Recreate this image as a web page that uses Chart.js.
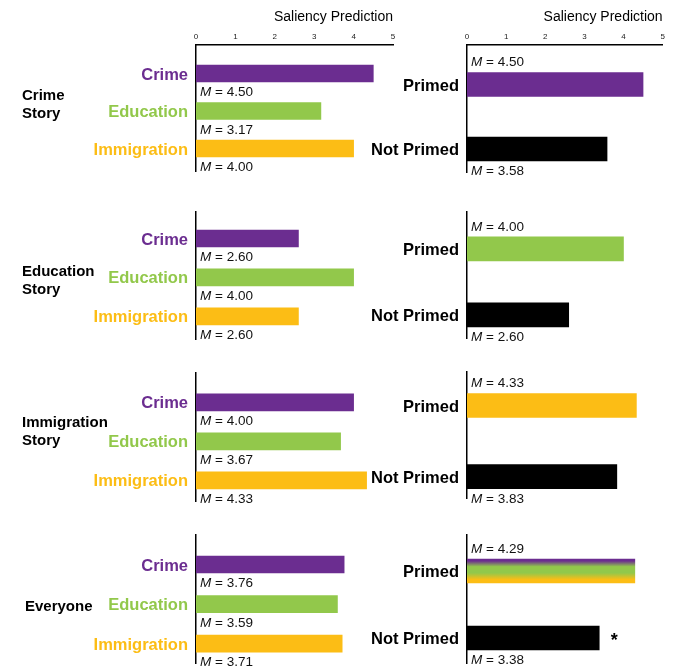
<!DOCTYPE html>
<html><head><meta charset="utf-8">
<script src="https://cdn.jsdelivr.net/npm/chart.js@4"></script>
<style>
html,body{margin:0;padding:0;background:#fff;}
body{width:674px;height:671px;position:relative;overflow:hidden;font-family:'Liberation Sans',Arial,sans-serif;}
canvas{position:absolute;}
.rowtitle{position:absolute;font-weight:bold;font-size:15px;line-height:18px;color:#000;white-space:nowrap;}
</style></head><body>
<script>
// ---- data ----
const topics = ['Crime', 'Education', 'Immigration'];
const primeGroups = ['Primed', 'Not Primed'];
const storyTitles = [['Crime', 'Story'], ['Education', 'Story'], ['Immigration', 'Story'], ['Everyone']];
const crimeStory = [4.50, 3.17, 4.00];
const educationStory = [2.60, 4.00, 2.60];
const immigrationStory = [4.00, 3.67, 4.33];
const everyone = [3.76, 3.59, 3.71];
const crimePrimed = [4.50, 3.58];
const educationPrimed = [4.00, 2.60];
const immigrationPrimed = [4.33, 3.83];
const everyonePrimed = [4.29, 3.38];
const everyoneSig = ['', '*'];
const xTicks = [0, 1, 2, 3, 4, 5];
const axisTitle = 'Saliency Prediction';

// ---- styles / layout ----
const PURPLE = '#6b2d90', GREEN = '#92c84b', GOLD = '#fcbd15', BLACK = '#000000';
const topicColors = [PURPLE, GREEN, GOLD];
const FONT = '"Liberation Sans", Arial, sans-serif';
Chart.defaults.font.family = FONT;

const leftLayout = [
  {T: 45, B: 171, min: -0.76, max: 2.6},
  {T: 212, B: 339, min: -0.68, max: 2.58},
  {T: 373, B: 501, min: -0.756, max: 2.53},
  {T: 535, B: 663, min: -0.747, max: 2.49}
];
const rightLayout = [
  {T: 45, B: 172, min: -0.612, max: 1.357},
  {T: 212, B: 338, min: -0.56, max: 1.35},
  {T: 372, B: 498, min: -0.47, max: 1.30},
  {T: 535, B: 663, min: -0.537, max: 1.373}
];
const titleTops = [{x: 22, y: 86}, {x: 22, y: 262}, {x: 22, y: 413}, {x: 25, y: 597}];

const mLabelPlugin = {
  id: 'mLabels',
  afterDatasetsDraw(chart, args, opts) {
    const ctx = chart.ctx;
    const meta = chart.getDatasetMeta(0);
    const x0 = chart.scales.x.getPixelForValue(0);
    meta.data.forEach((el, i) => {
      const v = chart.data.datasets[0].data[i].x;
      const h = el.height;
      const y = opts.pos[i] === 'above' ? el.y - h / 2 - 10 : el.y + h / 2 + 10.5;
      ctx.save();
      ctx.fillStyle = '#111';
      ctx.textBaseline = 'middle';
      ctx.textAlign = 'left';
      ctx.font = 'italic 13.5px ' + FONT;
      ctx.fillText('M', x0 + 4, y);
      const w = ctx.measureText('M').width;
      ctx.font = '13.5px ' + FONT;
      ctx.fillText(' = ' + v.toFixed(2), x0 + 4 + w, y);
      if (opts.sig && opts.sig[i]) {
        ctx.font = 'bold 18px ' + FONT;
        ctx.textAlign = 'center';
        ctx.fillStyle = '#000';
        ctx.fillText(opts.sig[i], el.x + 15, el.y + 3);
      }
      ctx.restore();
    });
  }
};

function makePanel(p) {
  const cv = document.createElement('canvas');
  const top = p.showTop ? 0 : p.T - 22;
  const bottom = p.B + 18;
  cv.width = p.width; cv.height = bottom - top;
  cv.style.left = p.left + 'px'; cv.style.top = top + 'px';
  cv.style.width = p.width + 'px'; cv.style.height = (bottom - top) + 'px';
  document.body.appendChild(cv);
  const padTop = p.showTop ? 0 : p.T - top;
  const bt = p.barThickness;
  new Chart(cv, {
    type: 'bar',
    data: {
      datasets: [{
        data: p.values.map((v, i) => ({x: v, y: i})),
        barThickness: bt,
        borderWidth: 0,
        backgroundColor: c => {
          if (p.gradient && c.dataIndex === 0) {
            const ch = c.chart;
            if (!ch.chartArea) return GREEN;
            const yc = ch.scales.y.getPixelForValue(0);
            const g = ch.ctx.createLinearGradient(0, yc - bt / 2, 0, yc + bt / 2);
            g.addColorStop(0, PURPLE);
            g.addColorStop(0.08, PURPLE);
            g.addColorStop(0.32, GREEN);
            g.addColorStop(0.58, GREEN);
            g.addColorStop(0.86, GOLD);
            g.addColorStop(1, GOLD);
            return g;
          }
          return p.colors[c.dataIndex];
        }
      }]
    },
    options: {
      indexAxis: 'y',
      responsive: false,
      animation: false,
      devicePixelRatio: 1,
      layout: {padding: {left: 0, right: p.left + p.width - p.axisRight, top: padTop, bottom: bottom - p.B}},
      plugins: {legend: {display: false}, tooltip: {enabled: false}, mLabels: {pos: p.mPos, sig: p.sig}},
      scales: {
        x: {
          type: 'linear', position: 'top', min: 0, max: 5, display: p.showTop,
          afterBuildTicks: s => { s.ticks = xTicks.map(v => ({value: v})); },
          afterFit: s => { s.height = p.showTop ? p.T : 0; },
          grid: {display: false, drawTicks: false},
          border: {display: true, color: '#000', width: 1.5},
          ticks: {font: {size: 8}, color: '#222', padding: 3},
          title: {display: true, text: axisTitle, align: 'end', color: '#000', font: {size: 14}, padding: {top: 9, bottom: 0}}
        },
        y: {
          type: 'linear', reverse: true, min: p.min, max: p.max, offset: false,
          afterBuildTicks: s => { s.ticks = p.labels.map((_, i) => ({value: i})); },
          afterFit: s => { s.width = p.axisLeft - p.left; },
          grid: {display: false, drawTicks: false, offset: false},
          border: {display: true, color: '#000', width: 1.5},
          ticks: {
            autoSkip: false, padding: 8, labelOffset: 1.5,
            color: c => p.tickColors[c.index],
            font: {size: 16.5, weight: 'bold'},
            callback: v => p.labels[v] ?? ''
          }
        }
      }
    },
    plugins: [mLabelPlugin]
  });
}

const leftValues = [crimeStory, educationStory, immigrationStory, everyone];
const rightValues = [crimePrimed, educationPrimed, immigrationPrimed, everyonePrimed];
const primedColors = [PURPLE, GREEN, GOLD, GREEN];

for (let r = 0; r < 4; r++) {
  const L = leftLayout[r];
  makePanel({
    left: 60, width: 340, axisLeft: 196, axisRight: 393,
    T: L.T, B: L.B, min: L.min, max: L.max,
    labels: topics, values: leftValues[r], colors: topicColors, tickColors: topicColors,
    barThickness: 17, showTop: r === 0, mPos: ['below', 'below', 'below'], sig: null, gradient: false
  });
  const R = rightLayout[r];
  makePanel({
    left: 360, width: 314, axisLeft: 467, axisRight: 662.6,
    T: R.T, B: R.B, min: R.min, max: R.max,
    labels: primeGroups, values: rightValues[r], colors: [primedColors[r], BLACK], tickColors: [BLACK, BLACK],
    barThickness: 24, showTop: r === 0, mPos: ['above', 'below'], sig: r === 3 ? everyoneSig : null, gradient: r === 3
  });
  const d = document.createElement('div');
  d.className = 'rowtitle';
  d.style.left = titleTops[r].x + 'px';
  d.style.top = titleTops[r].y + 'px';
  d.innerHTML = storyTitles[r].join('<br>');
  document.body.appendChild(d);
}
</script>
</body></html>
